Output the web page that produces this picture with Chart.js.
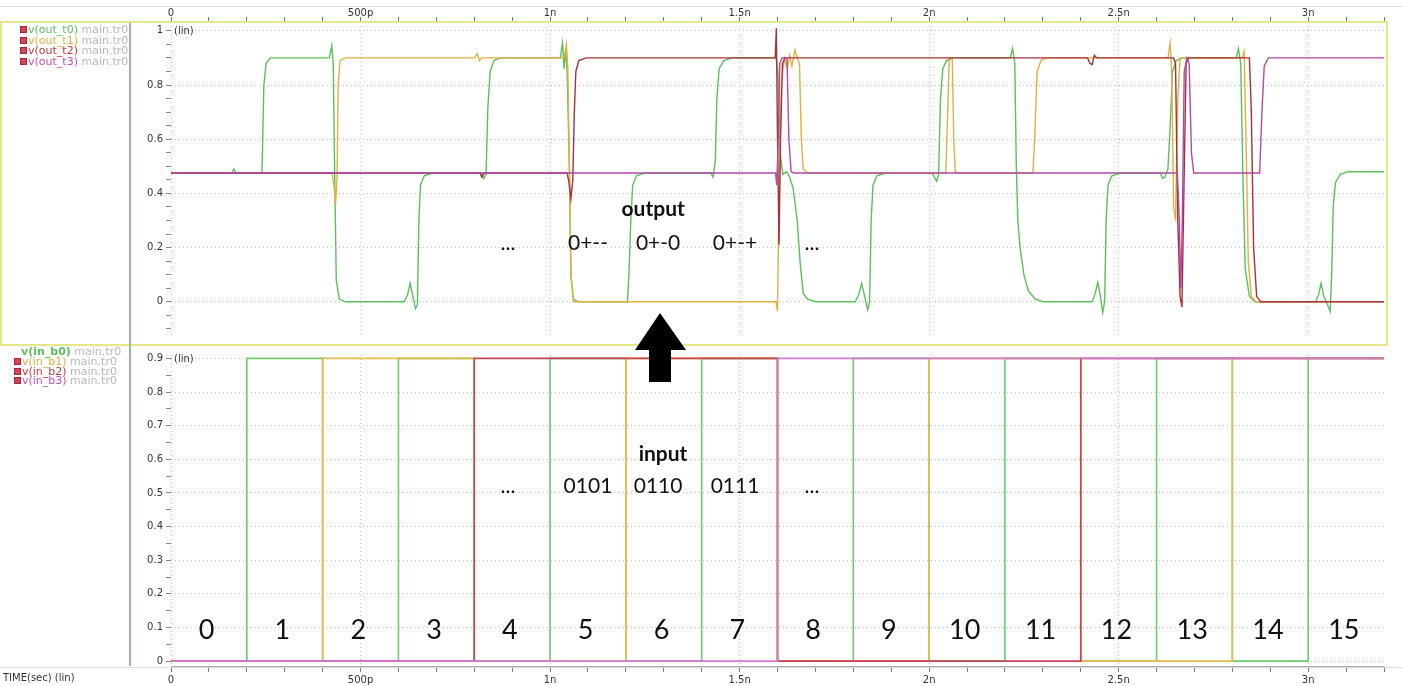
<!DOCTYPE html>
<html>
<head>
<meta charset="utf-8">
<script src="https://cdn.jsdelivr.net/npm/chart.js@4.4.1/dist/chart.umd.min.js"></script>
<style>
  body { margin: 0; background: #fff; width: 1403px; height: 686px; overflow: hidden; position: relative; font-family: "DejaVu Sans", sans-serif; }
  canvas { position: absolute; left: 0; }
  #topChart { top: 0; }
  #botChart { top: 346px; }
  .frame { position: absolute; left: 0; top: 21px; width: 1384px; height: 321px; border: 2px solid #e6e68a; pointer-events: none; }
  .sep { position: absolute; left: 129px; top: 23px; width: 2px; height: 643px; background: #9bb89b; }
  .topline { position: absolute; left: 0; top: 6px; width: 1403px; height: 1px; background: #e0e0e0; }
  .botline { position: absolute; left: 0; top: 667px; width: 1403px; height: 1px; background: #dcdcdc; }
  .legend { position: absolute; font-size: 11px; white-space: nowrap; }
  .ico { display: inline-block; width: 5px; height: 5px; background: #d04858; border: 1px solid #a02838; margin-right: 1px; vertical-align: 0px; }
  .src { color: #b8b8b8; }
  .tlab { position: absolute; left: 3px; top: 672px; font-size: 10px; color: #333; }
  svg { position: absolute; left: 0; top: 0; }
</style>
</head>
<body>
<div class="topline"></div>
<canvas id="topChart" width="1403" height="346"></canvas>
<canvas id="botChart" width="1403" height="340"></canvas>
<div class="frame"></div>
<div class="sep"></div>
<div class="botline"></div>
<div class="legend" style="left:20px;top:25px;line-height:10.6px">
  <div><span class="ico"></span><span style="color:#5cbf5c">v(out_t0)</span> <span class="src">main.tr0</span></div>
  <div><span class="ico"></span><span style="color:#e0b040">v(out_t1)</span> <span class="src">main.tr0</span></div>
  <div><span class="ico"></span><span style="color:#c03a3a">v(out_t2)</span> <span class="src">main.tr0</span></div>
  <div><span class="ico"></span><span style="color:#c050b0">v(out_t3)</span> <span class="src">main.tr0</span></div>
</div>
<div class="legend" style="left:14px;top:347px;line-height:9.8px">
  <div style="padding-left:7px"><span style="color:#5cbf5c;font-weight:bold">v(in_b0)</span> <span class="src">main.tr0</span></div>
  <div><span class="ico"></span><span style="color:#e0b040">v(in_b1)</span> <span class="src">main.tr0</span></div>
  <div><span class="ico"></span><span style="color:#c03a3a">v(in_b2)</span> <span class="src">main.tr0</span></div>
  <div><span class="ico"></span><span style="color:#c050b0">v(in_b3)</span> <span class="src">main.tr0</span></div>
</div>
<div class="tlab">TIME(sec) (lin)</div>
<svg width="1403" height="686">
  <polygon points="660,313 686,350 671,350 671,382 649,382 649,350 635,350" fill="#000"/>
</svg>
<script>
// time axis in ps
const xTickValues = [0, 500, 1000, 1500, 2000, 2500, 3000];
const xTickLabels = ['0', '500p', '1n', '1.5n', '2n', '2.5n', '3n'];
const yTopTicks = [0, 0.2, 0.4, 0.6, 0.8, 1];
const yTopLabels = ['0', '0.2', '0.4', '0.6', '0.8', '1'];
const yBotTicks = [0, 0.1, 0.2, 0.3, 0.4, 0.5, 0.6, 0.7, 0.8, 0.9];
const yBotLabels = ['0', '0.1', '0.2', '0.3', '0.4', '0.5', '0.6', '0.7', '0.8', '0.9'];

// outputs (ternary trits)
const outT0Time = [0, 160, 166, 172, 240, 245, 251, 262, 418, 424, 428, 432, 436, 444, 460,
  615, 624, 631, 638, 645, 650, 654, 658, 668, 690, 818, 825, 831, 836, 842, 852, 870,
  1027, 1033, 1037, 1041, 1045, 1051, 1055, 1061, 1075, 1204, 1208, 1213, 1218, 1228, 1250,
  1424, 1430, 1436, 1440, 1446, 1458, 1480, 1596, 1601, 1607, 1614, 1624, 1632, 1641, 1652, 1660, 1668, 1680, 1700,
  1805, 1814, 1822, 1830, 1838, 1843, 1847, 1852, 1862, 1885, 2008, 2014, 2020, 2025, 2030, 2036, 2046, 2065,
  2214, 2220, 2226, 2230, 2234, 2240, 2250, 2262, 2280, 2300,
  2430, 2438, 2445, 2452, 2458, 2463, 2467, 2472, 2482, 2505, 2610, 2616, 2622, 2630, 2636, 2642, 2652, 2668,
  2810, 2816, 2822, 2828, 2834, 2845, 2860, 3020, 3028, 3034, 3041, 3052, 3058, 3062, 3066, 3072, 3085, 3105, 3200];
const outT0Volt = [0.475, 0.475, 0.49, 0.475, 0.475, 0.8, 0.88, 0.9, 0.9, 0.945, 0.88, 0.45, 0.08, 0.01, 0,
  0, 0.025, 0.068, 0.02, -0.025, -0.01, 0.3, 0.43, 0.465, 0.475, 0.475, 0.455, 0.47, 0.72, 0.85, 0.89, 0.9,
  0.9, 0.955, 0.86, 0.935, 0.85, 0.5, 0.1, 0.01, 0, 0, 0.1, 0.3, 0.43, 0.465, 0.475,
  0.475, 0.46, 0.52, 0.75, 0.86, 0.89, 0.9, 0.9, 0.85, 0.55, 0.47, 0.48, 0.46, 0.42, 0.3, 0.14, 0.03, 0.01, 0,
  0, 0.025, 0.068, 0.02, -0.03, 0, 0.3, 0.43, 0.465, 0.475, 0.475, 0.46, 0.445, 0.47, 0.75, 0.86, 0.89, 0.9,
  0.9, 0.935, 0.88, 0.5, 0.3, 0.2, 0.1, 0.04, 0.01, 0,
  0, 0.03, 0.072, 0.02, -0.04, 0, 0.3, 0.43, 0.465, 0.475, 0.475, 0.455, 0.46, 0.49, 0.65, 0.85, 0.89, 0.9,
  0.9, 0.935, 0.88, 0.45, 0.12, 0.02, 0, 0, 0.03, 0.068, 0.02, -0.015, -0.035, 0.1, 0.35, 0.44, 0.47, 0.48, 0.48];

const outT1Time = [0, 425, 430, 434, 438, 441, 446, 460, 800, 808, 814, 820,
  1038, 1043, 1047, 1051, 1055, 1062, 1596, 1600, 1604, 1610, 1618, 1626, 1632, 1638, 1646, 1652, 1658, 1663, 1668, 1680,
  2044, 2049, 2053, 2061, 2065, 2069, 2080, 2274, 2279, 2285, 2295, 2310,
  2630, 2636, 2640, 2645, 2650, 2656, 2662, 2826, 2831, 2836, 2842, 2850, 2862, 3200];
const outT1Volt = [0.475, 0.475, 0.43, 0.36, 0.45, 0.8, 0.89, 0.9, 0.9, 0.915, 0.89, 0.9,
  0.9, 0.95, 0.86, 0.5, 0.1, 0, 0, -0.035, 0.4, 0.8, 0.9, 0.86, 0.91, 0.87, 0.93, 0.9, 0.88, 0.6, 0.49, 0.475,
  0.475, 0.7, 0.9, 0.9, 0.6, 0.48, 0.475, 0.475, 0.62, 0.85, 0.89, 0.9,
  0.9, 0.955, 0.85, 0.35, 0.3, 0.75, 0.9, 0.9, 0.925, 0.6, 0.15, 0.02, 0, 0];

const outT2Time = [0, 815, 820, 826, 1045, 1050, 1055, 1060, 1064, 1068, 1076, 1095,
  1594, 1597, 1600, 1604, 1608, 1613, 1620, 2418, 2424, 2430, 2436, 2442,
  2645, 2650, 2656, 2662, 2667, 2672, 2678, 2685, 2845, 2850, 2856, 2864, 2875, 3200];
const outT2Volt = [0.475, 0.475, 0.46, 0.475, 0.475, 0.44, 0.38, 0.45, 0.7, 0.85, 0.89, 0.9,
  0.9, 1.01, 0.6, 0.21, 0.6, 0.88, 0.9, 0.9, 0.88, 0.875, 0.91, 0.9,
  0.9, 0.88, 0.3, 0.02, -0.02, 0.4, 0.88, 0.9, 0.9, 0.7, 0.2, 0.02, 0, 0];

const outT3Time = [0, 1595, 1598, 1602, 1606, 1612, 1625, 1630, 1636, 1645,
  2655, 2660, 2664, 2668, 2673, 2680, 2686, 2692, 2698, 2872, 2878, 2884, 2895, 3200];
const outT3Volt = [0.475, 0.475, 0.43, 0.6, 0.88, 0.9, 0.9, 0.6, 0.48, 0.475,
  0.475, 0.3, 0.05, 0.3, 0.85, 0.9, 0.88, 0.55, 0.475, 0.475, 0.7, 0.87, 0.9, 0.9];

// inputs (binary bits), value starting at each time
const segT = [0, 200, 400, 600, 800, 1000, 1200, 1400, 1600, 1800, 2000, 2200, 2400, 2600, 2800, 3000, 3200];
const inB0 = [0, 0.9, 0, 0.9, 0, 0.9, 0, 0.9, 0, 0.9, 0, 0.9, 0, 0.9, 0, 0.9, 0.9];
const inB1 = [0, 0, 0.9, 0.9, 0, 0, 0.9, 0.9, 0, 0, 0.9, 0.9, 0, 0, 0.9, 0.9, 0.9];
const inB2 = [0, 0, 0, 0, 0.9, 0.9, 0.9, 0.9, 0, 0, 0, 0, 0.9, 0.9, 0.9, 0.9, 0.9];
const inB3 = [0, 0, 0, 0, 0, 0, 0, 0, 0.9, 0.9, 0.9, 0.9, 0.9, 0.9, 0.9, 0.9, 0.9];

const outCodes = ['...', '0+--', '0+-0', '0+-+', '...'];
const inCodes = ['...', '0101', '0110', '0111', '...'];
const codeT = [889, 1100, 1285, 1488, 1691];
const inputNumbers = ['0', '1', '2', '3', '4', '5', '6', '7', '8', '9', '10', '11', '12', '13', '14', '15'];

Chart.defaults.font.family = '"DejaVu Sans", sans-serif';
Chart.defaults.font.size = 10;
Chart.defaults.color = '#333';

const pts = (ts, vs) => ts.map((t, i) => ({ x: t, y: vs[i] }));
const near = (v, list) => list.findIndex(a => Math.abs(a - v) < 1e-6);

function notesPlugin(notes, linY) {
  return {
    id: 'notes',
    afterDatasetsDraw(chart) {
      const { ctx, scales: { x, y }, chartArea } = chart;
      ctx.save();
      ctx.fillStyle = '#333';
      ctx.font = '10px "DejaVu Sans"';
      ctx.textBaseline = 'middle';
      ctx.textAlign = 'left';
      ctx.fillText('(lin)', chartArea.left + 3, y.getPixelForValue(linY) + 1);
      ctx.fillStyle = '#111';
      ctx.textAlign = 'center';
      notes.forEach(n => {
        ctx.font = n.font;
        ctx.fillText(n.text, x.getPixelForValue(n.t), y.getPixelForValue(n.v));
      });
      ctx.restore();
    }
  };
}

function xScale(position, h) {
  const minor = [];
  for (let k = 0; k <= 32; k++) minor.push(k * 100);
  return {
    type: 'linear', position: position, min: 0, max: 3200,
    afterBuildTicks: s => { s.ticks = minor.map(v => ({ value: v })); },
    afterFit: s => { s.height = h; },
    ticks: {
      autoSkip: false, maxRotation: 0, padding: position === 'top' ? -2 : 2, color: '#333',
      callback: v => { const i = near(v, xTickValues); return i >= 0 ? xTickLabels[i] : ''; }
    },
    grid: {
      color: c => near(c.tick.value, xTickValues) >= 0 ? '#c4c4c4' : 'rgba(0,0,0,0)',
      tickColor: '#777', tickLength: position === 'top' ? 5 : 6, lineWidth: 1
    },
    border: { display: position !== 'top', color: '#aaa', dash: [1, 3] }
  };
}

function yScale(min, max, lo, hi, majors, labels) {
  const minor = [];
  for (let k = lo; k <= hi; k++) minor.push(Math.round(k * 5) / 100);
  return {
    type: 'linear', min: min, max: max,
    afterBuildTicks: s => { s.ticks = minor.map(v => ({ value: v })); },
    afterFit: s => { s.width = 41; },
    ticks: {
      autoSkip: false, padding: 3, color: '#333',
      callback: v => { const i = near(v, majors); return i >= 0 ? labels[i] : ''; }
    },
    grid: {
      color: c => near(c.tick.value, majors) >= 0 ? '#c4c4c4' : 'rgba(0,0,0,0)',
      tickColor: '#888', tickLength: 5, lineWidth: 1
    },
    border: { display: false, dash: [1, 3] }
  };
}

const line = (data, color, order, extra) => Object.assign({
  data: data, borderColor: color, borderWidth: 1.4, pointRadius: 0, fill: false, tension: 0, order: order
}, extra || {});

const topNotes = [{ text: 'output', t: 1272, v: 0.343, font: 'bold 21px Lato' }]
  .concat(outCodes.map((c, i) => ({ text: c, t: codeT[i], v: 0.217, font: '21px Lato' })));
const botNotes = [{ text: 'input', t: 1298, v: 0.614, font: 'bold 21px Lato' }]
  .concat(inCodes.map((c, i) => ({ text: c, t: codeT[i], v: 0.519, font: '21px Lato' })))
  .concat(inputNumbers.map((c, i) => ({ text: c, t: (segT[i] + segT[i + 1]) / 2 - 6, v: 0.093, font: '27px Lato' })));

new Chart(document.getElementById('topChart'), {
  type: 'line',
  data: {
    datasets: [
      line(pts(outT0Time, outT0Volt), '#5cbf5c', 3),
      line(pts(outT1Time, outT1Volt), '#e0b040', 2),
      line(pts(outT2Time, outT2Volt), '#a8303c', 1),
      line(pts(outT3Time, outT3Volt), '#b04aa6', 0)
    ]
  },
  options: {
    responsive: false, animation: false, events: [],
    layout: { padding: { left: 130, right: 19, top: 0, bottom: 2 } },
    plugins: { legend: { display: false }, tooltip: { enabled: false } },
    scales: {
      x: xScale('top', 22),
      y: yScale(-0.13, 1.0325, -2, 20, yTopTicks, yTopLabels)
    }
  },
  plugins: [notesPlugin(topNotes, 1)]
});

new Chart(document.getElementById('botChart'), {
  type: 'line',
  data: {
    datasets: [
      line(pts(segT, inB0), '#6ccc6c', 3, { stepped: 'before', borderWidth: 1.6 }),
      line(pts(segT, inB1), '#e4bc4c', 2, { stepped: 'before', borderWidth: 1.6 }),
      line(pts(segT, inB2), '#c8405a', 1, { stepped: 'before', borderWidth: 1.6 }),
      line(pts(segT, inB3), '#d07ad0', 0, { stepped: 'before', borderWidth: 1.6 })
    ]
  },
  options: {
    responsive: false, animation: false, events: [],
    layout: { padding: { left: 130, right: 19, top: 1, bottom: 0 } },
    plugins: { legend: { display: false }, tooltip: { enabled: false } },
    scales: {
      x: xScale('bottom', 20),
      y: yScale(-0.0145, 0.91, 0, 18, yBotTicks, yBotLabels)
    }
  },
  plugins: [notesPlugin(botNotes, 0.9)]
});
</script>
</body>
</html>
